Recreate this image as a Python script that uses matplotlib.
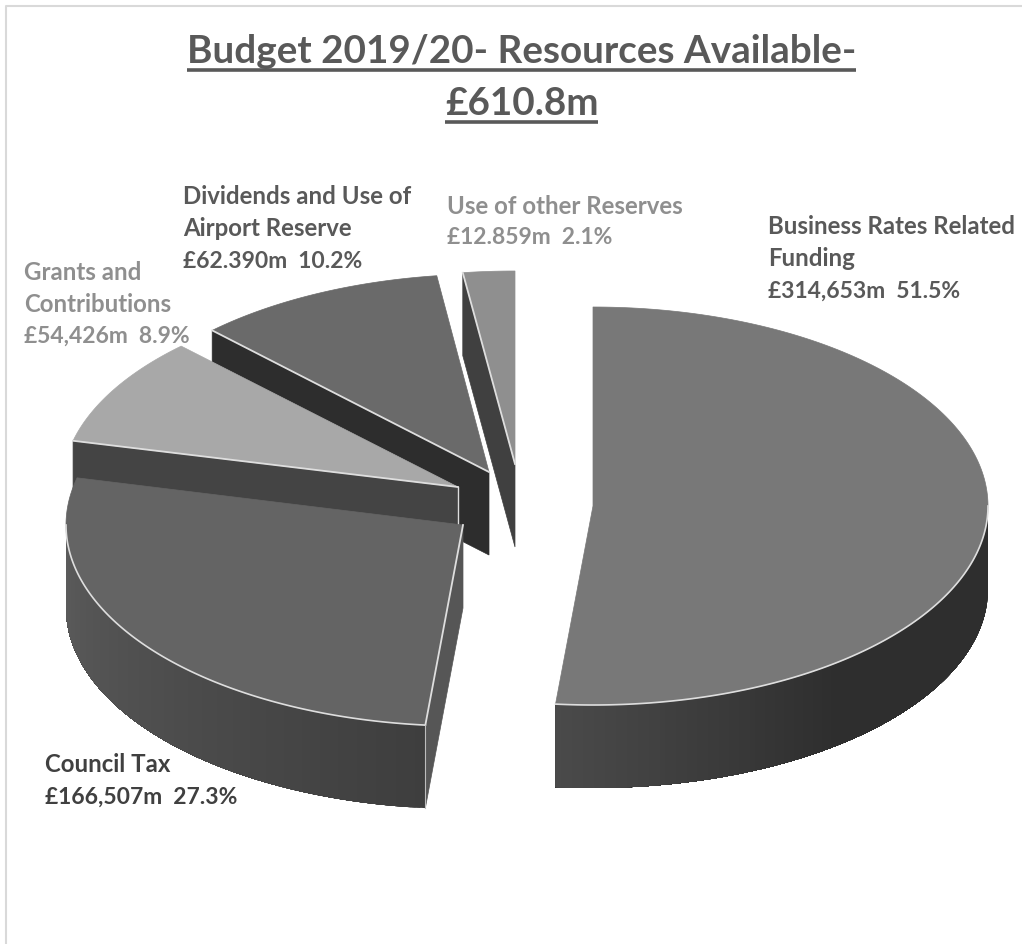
#!/usr/bin/env python3
# -*- coding: utf-8 -*-
import numpy as np
import matplotlib
matplotlib.use('Agg')
import matplotlib.pyplot as plt
from matplotlib.colors import to_rgb
from matplotlib.patches import Polygon

# Data
names = ['Business Rates', 'Council Tax', 'Grants', 'Dividends', 'Other Reserves']
values = [314.653, 166.507, 54.426, 62.390, 12.859]
label_lines = [
    ['Business Rates Related', 'Funding', '£314,653m  51.5%'],
    ['Council Tax', '£166,507m  27.3%'],
    ['Grants and', 'Contributions', '£54,426m  8.9%'],
    ['Dividends and Use of', 'Airport Reserve', '£62.390m  10.2%'],
    ['Use of other Reserves', '£12.859m  2.1%'],
]
title_lines = ['Budget 2019/20- Resources Available-', '£610.8m']

# Layout, in pixels of the picture
apex = [(593, 507), (463, 526), (458, 488), (489, 473), (515, 465)]
radius_x = [395, 397, 396, 396, 396]
radius_y = [199, 201, 197, 198, 193]
label_pos = [(768, 227), (45, 765), (24, 272), (183, 197), (447, 206)]
depth = 83
line_step = 32

# Styles
top_colors = ['#787878', '#646464', '#a8a8a8', '#6a6a6a', '#8f8f8f']
cut_colors = ['#303030', '#565656', '#444444', '#2d2d2d', '#404040']
label_colors = ['#595959', '#404040', '#8f8f8f', '#595959', '#8f8f8f']
# colour of the outer wall at the start and the end of the front part of each slice
wall_colors = [('#2e2e2e', '#4a4a4a'), ('#3e3e3e', '#5c5c5c'), ('#444444', '#444444'),
               ('#2d2d2d', '#2d2d2d'), ('#404040', '#404040')]
edge = '#dedede'
plt.rcParams['font.family'] = ['Lato', 'DejaVu Sans']

fig = plt.figure(figsize=(10.22, 9.45), dpi=100)
ax = fig.add_axes([0, 0, 1, 1])
ax.set_xlim(0, 1022)
ax.set_ylim(945, 0)
ax.axis('off')

# Chart frame
ax.plot([6, 6, 1022], [945, 7, 7], color='#d9d9d9', lw=1.5)


def rim(i, angles):
    c = apex[i]
    return np.column_stack((c[0] + radius_x[i]*np.sin(angles), c[1] - radius_y[i]*np.cos(angles)))


# Angles clockwise from 12 o'clock
shares = np.array(values)/sum(values)
ends = np.cumsum(shares)*2*np.pi
starts = ends - shares*2*np.pi
drop = np.array([0, depth])

# Back slices first, so the nearer ones cover them
for i in [4, 3, 2, 1, 0]:
    a0, a1, c = starts[i], ends[i], np.array(apex[i])
    z = i*-10
    # radial wall on the clockwise side is seen when it faces down
    if np.sin(a0) < -1e-6:
        p = rim(i, np.array([a0]))[0]
        ax.add_patch(Polygon([c, p, p+drop, c+drop], fc=cut_colors[i], ec=cut_colors[i], lw=0.5, zorder=z+1))
        if i == 2:
            ax.plot([c[0], c[0]], [c[1], c[1]+depth], color=edge, lw=1, zorder=z+1.5)
    # outer wall, front half only, shaded along the arc
    f0, f1 = max(a0, np.pi/2), min(a1, 3*np.pi/2)
    if f1 > f0:
        t = np.linspace(f0, f1, 120)
        pts = rim(i, t)
        c0, c1 = np.array(to_rgb(wall_colors[i][0])), np.array(to_rgb(wall_colors[i][1]))
        u = np.linspace(0, 1, len(t)-1)
        if i == 0:
            # stays dark over most of the arc, lightens towards the cut
            u = np.clip((u-0.55)/0.45, 0, 1)
        # each piece runs on to the end of the arc, so no seams show between them
        for k in range(len(t)-1):
            col = c0 + (c1-c0)*u[k]
            rest = pts[k:]
            ax.add_patch(Polygon(np.vstack((rest, rest[::-1]+drop)), fc=col, ec='none', zorder=z+2))
        ax.plot(pts[:, 0], pts[:, 1], color=edge, lw=1.2, zorder=z+4)
    # top face
    t = np.linspace(a0, a1, 200)
    ax.add_patch(Polygon(np.vstack((c, rim(i, t))), fc=top_colors[i], ec=top_colors[i], lw=0.5, zorder=z+3))
    if np.sin(a0) < -1e-6:
        p = rim(i, np.array([a0]))[0]
        ax.plot([c[0], p[0]], [c[1], p[1]], color=edge, lw=1.3, zorder=z+4)
        if i == 1:
            ax.plot([p[0], p[0]], [p[1], p[1]+depth], color='#bdbdbd', lw=0.8, zorder=z+4)

# Data labels, the name lines run a little wider than the value line
for lines, pos, col in zip(label_lines, label_pos, label_colors):
    for k, s in enumerate(lines):
        size = 16.5 if k == len(lines)-1 else 17.3
        ax.text(pos[0], pos[1]+k*line_step, s, fontsize=size, fontweight='bold', color=col,
                ha='left', va='center', zorder=10)

# Title with its underlines
baselines = [63, 115]
title_texts = [ax.text(521.5, b, s, fontsize=27.8, fontweight='bold', color='#595959', ha='center',
                       va='baseline', zorder=10) for s, b in zip(title_lines, baselines)]
fig.canvas.draw()
inv = ax.transData.inverted()
for txt, b in zip(title_texts, baselines):
    box = txt.get_window_extent()
    x0 = inv.transform((box.x0, box.y0))[0]
    x1 = inv.transform((box.x1, box.y0))[0]
    ax.plot([x0, x1], [b+8, b+8], color='#595959', lw=2.6, solid_capstyle='butt', zorder=10)

fig.savefig('out.png', dpi=100)
